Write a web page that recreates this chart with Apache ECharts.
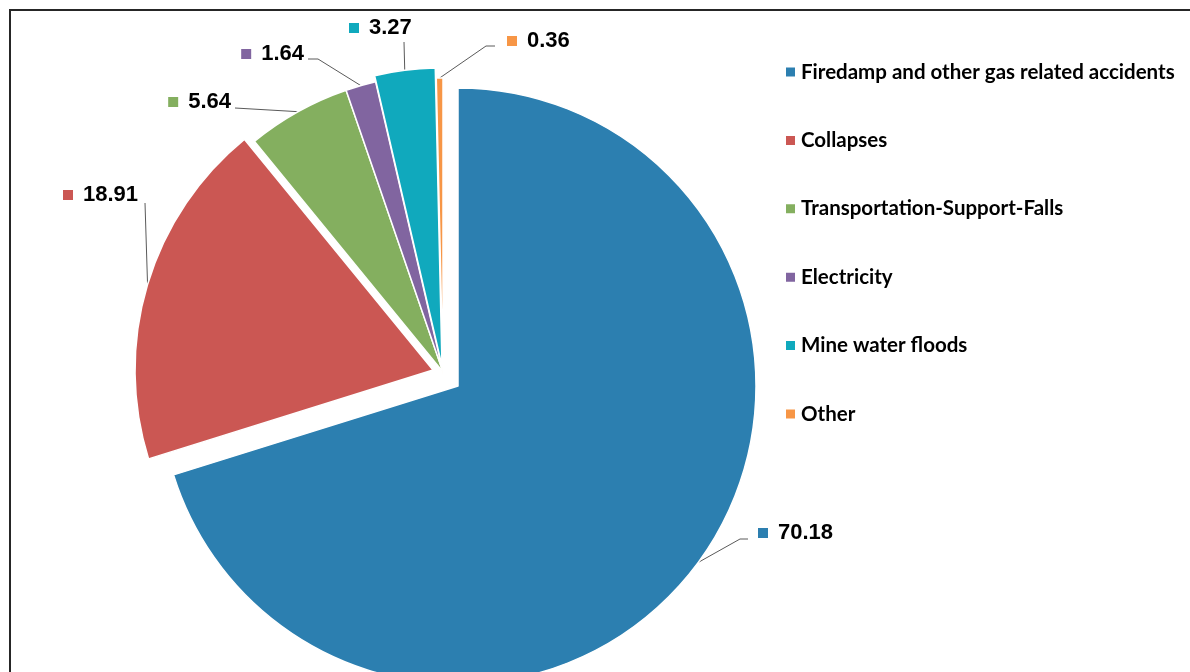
<!DOCTYPE html>
<html>
<head>
<meta charset="utf-8">
<script src="https://cdn.jsdelivr.net/npm/echarts@6/dist/echarts.min.js"></script>
<style>
  html, body { margin: 0; padding: 0; background: #fff; }
  #chart { width: 1190px; height: 672px; }
</style>
</head>
<body>
<div id="chart"></div>
<script>
// Causes of fatal mining accidents, share in percent
const categories = [
  'Firedamp and other gas related accidents',
  'Collapses',
  'Transportation-Support-Falls',
  'Electricity',
  'Mine water floods',
  'Other'
];
const shares = [70.18, 18.91, 5.64, 1.64, 3.27, 0.36];
const colors = ['#2C7FB0', '#CB5753', '#84AF5F', '#8165A0', '#10A9BD', '#F79646'];

// Layout: each wedge is pulled out from the common centre by its own amount
const sliceCenters = [[458, 386], [433, 370], [443, 372], [443, 372], [442, 366], [443, 376]];
const pieRadius = 298;

// Value label anchors and the bends of their leader lines
const labelSpots = [
  { x: 758, y: 533, align: 'left',  bend: [[740, 539], [748, 539]] },
  { x: 63,  y: 195, align: 'left',  bend: [[145, 203], [145, 203]] },
  { x: 231, y: 102, align: 'right', bend: [[235, 108], [235, 108]] },
  { x: 304, y: 54,  align: 'right', bend: [[318, 59], [308, 59]] },
  { x: 349, y: 28,  align: 'left',  bend: [[404, 42], [404, 42]] },
  { x: 507, y: 41,  align: 'left',  bend: [[486, 46], [495, 46]] }
];

const total = shares.reduce((a, b) => a + b, 0);

// One pie series per wedge, so every wedge can sit on its own centre
let cum = 0;
const series = categories.map((name, i) => {
  const a0 = cum / total * 360;
  cum += shares[i];
  const a1 = cum / total * 360;
  const spot = labelSpots[i];
  return {
    type: 'pie',
    name: name,
    center: sliceCenters[i],
    radius: [0, pieRadius],
    startAngle: 90 - a0,
    endAngle: 90 - a1,
    clockwise: true,
    avoidLabelOverlap: false,
    silent: true,
    itemStyle: { color: colors[i], borderColor: '#ffffff', borderWidth: 1.5 },
    label: {
      show: true,
      position: 'outside',
      formatter: '{m|}{v|' + shares[i].toFixed(2) + '}',
      rich: {
        m: { width: 10, height: 10, backgroundColor: colors[i] },
        v: {
          fontFamily: '"Liberation Sans", Arial, sans-serif',
          fontWeight: 'bold',
          fontSize: 22,
          color: '#000000',
          padding: [0, 0, 0, 10]
        }
      }
    },
    labelLine: {
      show: true,
      lineStyle: { color: '#5A5A5A', width: 1 }
    },
    labelLayout: function (params) {
      const p0 = params.labelLinePoints ? params.labelLinePoints[0] : spot.bend[0];
      return {
        x: spot.x,
        y: spot.y,
        align: spot.align,
        verticalAlign: 'middle',
        labelLinePoints: [p0, spot.bend[0], spot.bend[1]]
      };
    },
    emphasis: { disabled: true },
    data: [{ name: name, value: shares[i] }]
  };
});

const chart = echarts.init(document.getElementById('chart'), null, { renderer: 'canvas' });
chart.setOption({
  animation: false,
  backgroundColor: '#ffffff',
  legend: {
    data: categories,
    orient: 'vertical',
    left: 779,
    top: 56,
    icon: 'rect',
    itemWidth: 11,
    itemHeight: 11,
    itemGap: 46.4,
    selectedMode: false,
    textStyle: {
      fontFamily: 'Lato, "Noto Sans", sans-serif',
      fontWeight: 'bold',
      fontSize: 20.5,
      color: '#000000',
      lineHeight: 22
    }
  },
  graphic: [{
    type: 'rect',
    silent: true,
    z: 100,
    shape: { x: 10, y: 10, width: 1200, height: 700 },
    style: { fill: null, stroke: '#262626', lineWidth: 2 }
  }],
  series: series
});
</script>
</body>
</html>
